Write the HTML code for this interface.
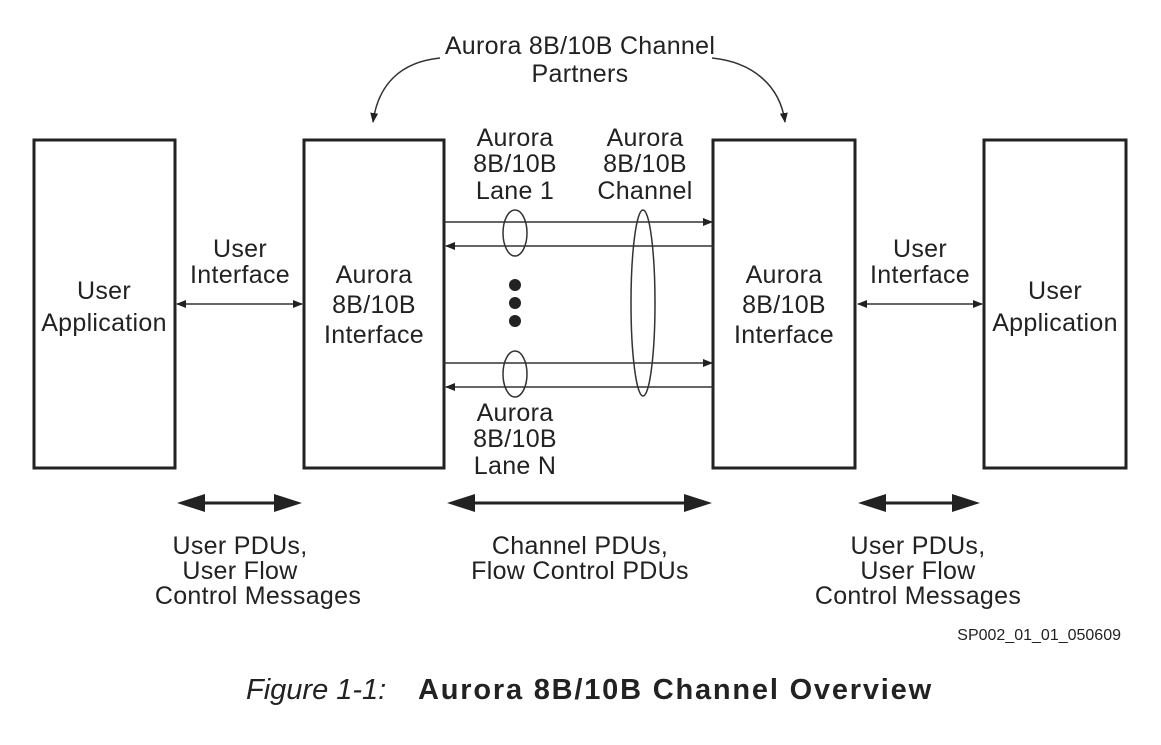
<!DOCTYPE html>
<html><head><style>
body{margin:0;background:#fff}
svg text{font-family:"Liberation Sans",sans-serif;fill:#222}
</style></head><body>
<svg width="1161" height="740" viewBox="0 0 1161 740" xmlns="http://www.w3.org/2000/svg">
<defs>
<marker id="a" markerWidth="10" markerHeight="8" refX="9" refY="4" orient="auto" markerUnits="userSpaceOnUse"><path d="M0,0 L10,4 L0,8 Z" fill="#222"/></marker>
<marker id="as" markerWidth="10" markerHeight="8" refX="1" refY="4" orient="auto" markerUnits="userSpaceOnUse"><path d="M10,0 L0,4 L10,8 Z" fill="#222"/></marker>
</defs>
<g fill="none" stroke="#222" stroke-width="3">
<rect x="34" y="140" width="141" height="328"/>
<rect x="304" y="140" width="140" height="328"/>
<rect x="713" y="140" width="142" height="328"/>
<rect x="984" y="140" width="142" height="328"/>
</g>
<g stroke="#333" stroke-width="1.5" fill="none">
<line x1="444" y1="222" x2="712" y2="222" marker-end="url(#a)"/>
<line x1="446" y1="246" x2="713" y2="246" marker-start="url(#as)"/>
<line x1="444" y1="363" x2="712" y2="363" marker-end="url(#a)"/>
<line x1="446" y1="387" x2="713" y2="387" marker-start="url(#as)"/>
<line x1="177" y1="304" x2="302" y2="304" marker-start="url(#as)" marker-end="url(#a)"/>
<line x1="858" y1="304" x2="982" y2="304" marker-start="url(#as)" marker-end="url(#a)"/>
<ellipse cx="515" cy="233" rx="12" ry="23"/>
<ellipse cx="515" cy="374" rx="12" ry="23"/>
<ellipse cx="643" cy="303" rx="12" ry="93"/>
<path d="M440,58 C400,62 378,85 373,122" marker-end="url(#a)"/>
<path d="M712,58 C752,62 780,85 785,122" marker-end="url(#a)"/>
</g>
<g fill="#222"><circle cx="515" cy="285" r="6"/><circle cx="515" cy="303" r="6"/><circle cx="515" cy="321" r="6"/></g>
<g stroke="#222" stroke-width="3">
<line x1="200" y1="503" x2="280" y2="503"/>
<line x1="470" y1="503" x2="690" y2="503"/>
<line x1="880" y1="503" x2="958" y2="503"/>
</g>
<g fill="#222">
<path d="M177,503 L205,494 L205,512 Z"/><path d="M302,503 L274,494 L274,512 Z"/>
<path d="M447,503 L475,494 L475,512 Z"/><path d="M712,503 L684,494 L684,512 Z"/>
<path d="M858,503 L886,494 L886,512 Z"/><path d="M980,503 L952,494 L952,512 Z"/>
</g>
<g font-size="25" text-anchor="middle" letter-spacing="0.3">
<text x="580" y="54">Aurora 8B/10B Channel</text>
<text x="580" y="82">Partners</text>
<text x="515" y="146">Aurora</text><text x="515" y="172">8B/10B</text><text x="515" y="199">Lane 1</text>
<text x="645" y="146">Aurora</text><text x="645" y="172">8B/10B</text><text x="645" y="199">Channel</text>
<text x="515" y="421">Aurora</text><text x="515" y="447">8B/10B</text><text x="515" y="474">Lane N</text>
<text x="104" y="299">User</text><text x="104" y="331">Application</text>
<text x="1055" y="299">User</text><text x="1055" y="331">Application</text>
<text x="240" y="257">User</text><text x="240" y="283">Interface</text>
<text x="920" y="257">User</text><text x="920" y="283">Interface</text>
<text x="374" y="283">Aurora</text><text x="374" y="313">8B/10B</text><text x="374" y="343">Interface</text>
<text x="784" y="283">Aurora</text><text x="784" y="313">8B/10B</text><text x="784" y="343">Interface</text>
<text x="240" y="554">User PDUs,</text><text x="240" y="579">User Flow</text><text x="258" y="604">Control Messages</text>
<text x="580" y="554">Channel PDUs,</text><text x="580" y="579">Flow Control PDUs</text>
<text x="918" y="554">User PDUs,</text><text x="918" y="579">User Flow</text><text x="918" y="604">Control Messages</text>
</g>
<text x="1121" y="640" font-size="16" text-anchor="end">SP002_01_01_050609</text>
<text x="246" y="699" font-size="29" font-style="italic">Figure 1-1:</text>
<text x="418" y="699" font-size="29" font-weight="bold" letter-spacing="1.8">Aurora 8B/10B Channel Overview</text>
</svg>
</body></html>
